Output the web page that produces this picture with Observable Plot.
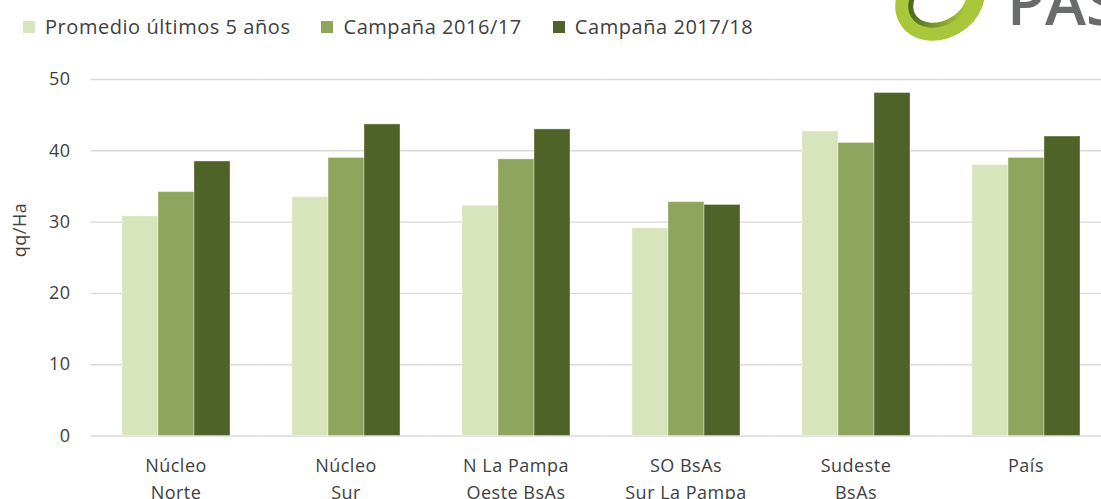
<!DOCTYPE html>
<html><head><meta charset="utf-8">
<script src="https://cdn.jsdelivr.net/npm/d3@7"></script>
<script src="https://cdn.jsdelivr.net/npm/@observablehq/plot@0.6"></script>
<style>
html,body{margin:0;padding:0;background:#fff;overflow:hidden;}
#wrap{position:relative;width:1101px;height:499px;overflow:hidden;font-family:"Open Sans",sans-serif;color:#404040;}
#chart{position:absolute;left:0;top:0;}
#chart text{letter-spacing:0.5px;}
#legend{position:absolute;left:23px;top:13px;display:flex;align-items:center;font-size:20px;letter-spacing:0.55px;white-space:nowrap;}
#legend .item{display:flex;align-items:center;margin-right:31px;}
#legend .sw{width:12px;height:12px;margin-right:10px;}
#ytitle{position:absolute;left:19px;top:230px;transform:translate(-50%,-50%) rotate(-90deg);font-size:18px;letter-spacing:0.5px;white-space:nowrap;}
#logo{position:absolute;left:880px;top:0;}
</style></head><body>
<div id="wrap">
  <div id="chart"></div>
  <div id="legend"></div>
  <div id="ytitle">qq/Ha</div>
  <svg id="logo" width="221" height="50">
    <defs>
      <linearGradient id="lg" x1="0" y1="0" x2="1" y2="0.6">
        <stop offset="0" stop-color="#3d561b"/><stop offset="0.6" stop-color="#7d9a2c"/><stop offset="1" stop-color="#a9c83a"/>
      </linearGradient>
    </defs>
    <ellipse cx="60" cy="0" rx="38" ry="30" transform="rotate(-30 60 0)" fill="none" stroke="#a8c73a" stroke-width="17"/>
    <ellipse cx="60" cy="0" rx="31" ry="23" transform="rotate(-30 60 0)" fill="none" stroke="url(#lg)" stroke-width="5"/>
    <text x="127" y="25" font-family="Open Sans, sans-serif" font-weight="600" font-size="62" fill="#6a6b6d">PAS</text>
  </svg>
</div>
<script>
const regions = ["Núcleo Norte", "Núcleo Sur", "N La Pampa Oeste BsAs", "SO BsAs Sur La Pampa", "Sudeste BsAs", "País"];
const regionLabels = ["Núcleo\nNorte", "Núcleo\nSur", "N La Pampa\nOeste BsAs", "SO BsAs\nSur La Pampa", "Sudeste\nBsAs", "País"];
const series = ["Promedio últimos 5 años", "Campaña 2016/17", "Campaña 2017/18"];
const promedio5 = [30.8, 33.5, 32.3, 29.1, 42.7, 38.0];
const campana1617 = [34.2, 39.0, 38.8, 32.8, 41.1, 39.0];
const campana1718 = [38.5, 43.7, 43.0, 32.4, 48.1, 42.0];
const yTicks = [0, 10, 20, 30, 40, 50];
const colors = ["#d8e4bc", "#8fa55d", "#4f6228"];

const valuesBySeries = [promedio5, campana1617, campana1718];
const data = regions.flatMap((r, i) => series.map((s, j) => ({region: r, serie: s, value: valuesBySeries[j][i]})));

// legend
const legend = document.getElementById("legend");
series.forEach((s, j) => {
  const it = document.createElement("div"); it.className = "item";
  const sw = document.createElement("span"); sw.className = "sw"; sw.style.background = colors[j];
  const tx = document.createElement("span"); tx.textContent = s;
  it.append(sw, tx); legend.append(it);
});

const halfGap = 30.6;
const chart = Plot.plot({
  width: 1101,
  height: 499,
  marginTop: 79,
  marginBottom: 63.5,
  marginLeft: 90,
  marginRight: 0,
  style: {fontFamily: "Open Sans, sans-serif", color: "#404040", background: "transparent"},
  fx: {domain: regions, range: [90, 1110], paddingInner: 0.36, paddingOuter: 0.18, axis: null},
  x: {domain: series, padding: 0, axis: null},
  y: {domain: [0, 50], axis: null},
  color: {domain: series, range: colors},
  marks: [
    Plot.ruleY(yTicks, {stroke: "#d9d9d9", strokeWidth: 1.4, insetLeft: -halfGap, insetRight: -halfGap}),
    Plot.barY(data, {fx: "region", x: "serie", y: "value", fill: "serie", stroke: "#ffffff", strokeOpacity: 0.35, strokeWidth: 1}),
    Plot.text(yTicks, {fx: yTicks.map(() => regions[0]), y: d => d, text: d => String(d), frameAnchor: "left",
      textAnchor: "end", dx: -51, fontSize: 18, fill: "#404040"}),
    Plot.axisFx({anchor: "bottom", tickSize: 0, tickPadding: 17, fontSize: 18, lineHeight: 1.5, label: null, fill: "#404040",
      tickFormat: r => regionLabels[regions.indexOf(r)]})
  ]
});
document.getElementById("chart").append(chart);
</script>
</body></html>
